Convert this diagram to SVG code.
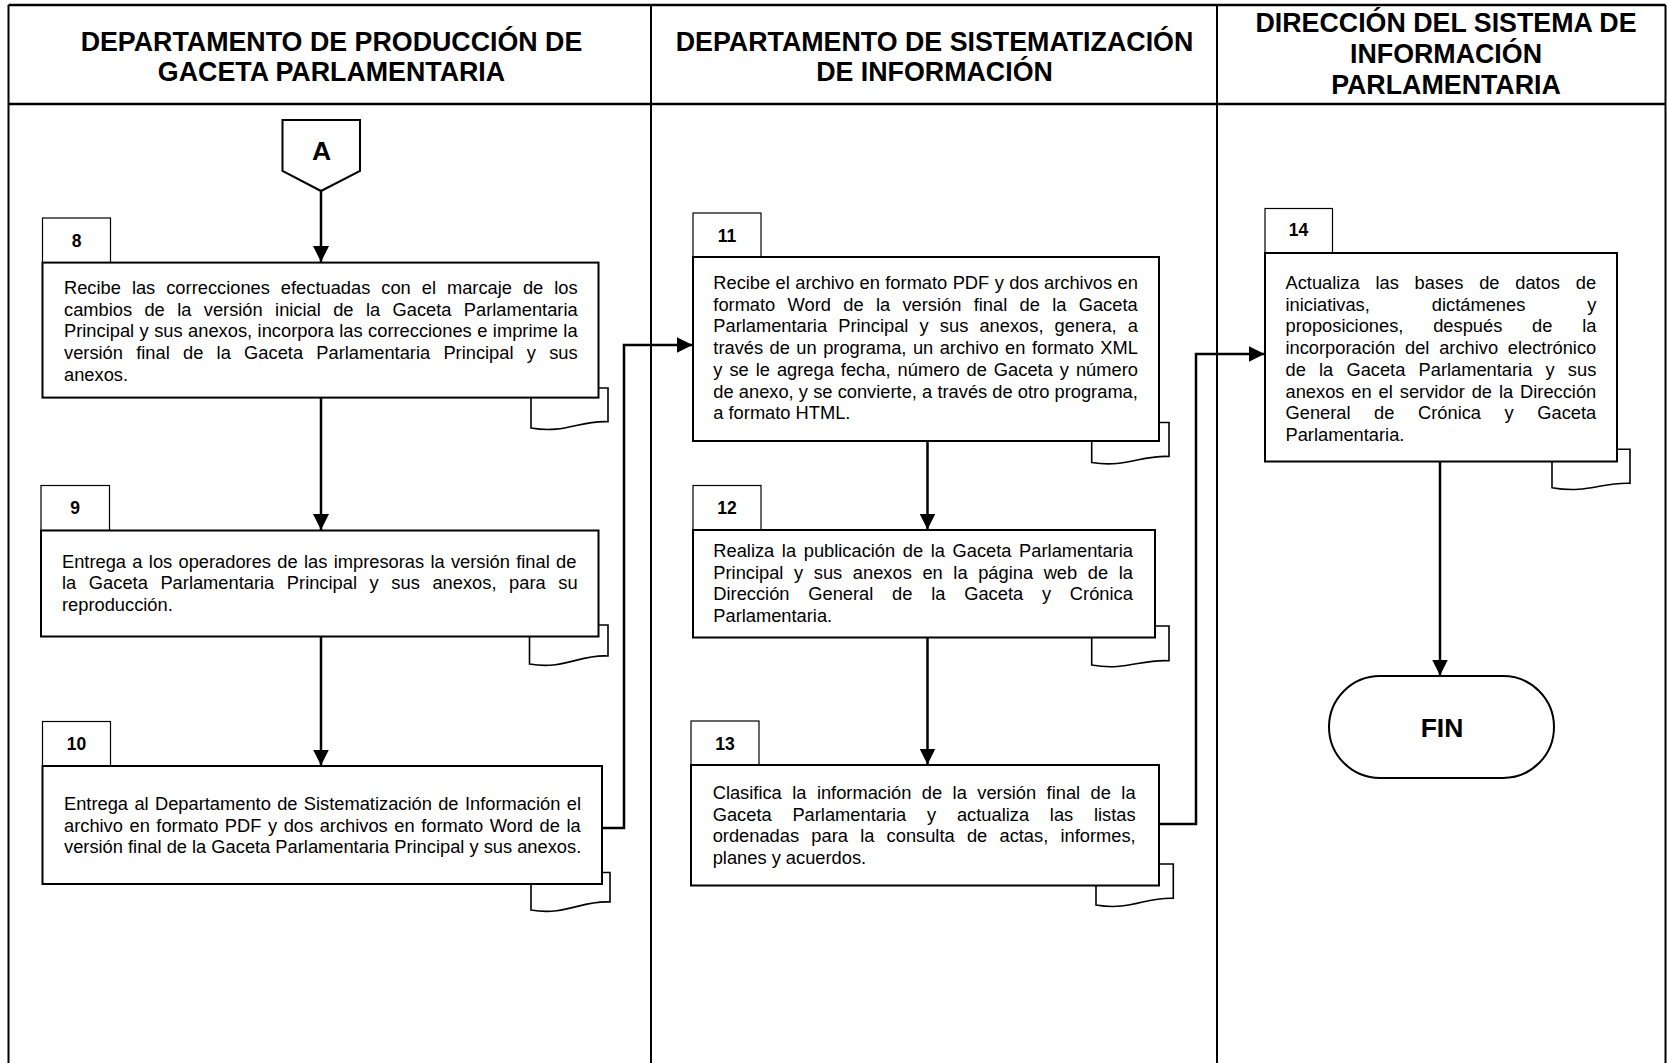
<svg xmlns="http://www.w3.org/2000/svg" width="1667" height="1063" viewBox="0 0 1667 1063">
<defs>
<style>
.frame{fill:none;stroke:#000;stroke-width:2.5}
.lane{fill:none;stroke:#000;stroke-width:2}
.box{fill:#fff;stroke:#000;stroke-width:2}
.tab{fill:#fff;stroke:#000;stroke-width:1.2}
.curl{fill:#fff;stroke:#000;stroke-width:1.6}
.conn{fill:none;stroke:#000;stroke-width:2.5}
.hdr{font-family:"Liberation Sans",Arial,sans-serif;font-weight:bold;font-size:26.8px;text-anchor:middle}
.num{font-family:"Liberation Sans",Arial,sans-serif;font-weight:bold;font-size:17.5px;text-anchor:middle}
.big{font-family:"Liberation Sans",Arial,sans-serif;font-weight:bold;font-size:26.5px;text-anchor:middle}
.t{font-family:"Liberation Sans",Arial,sans-serif;font-size:18.3px}
</style>
<marker id="ah" markerUnits="userSpaceOnUse" markerWidth="16" markerHeight="16" refX="16" refY="8" orient="auto">
<path d="M0,0 L16,8 L0,16 Z" fill="#000"/>
</marker>
</defs>
<rect width="1667" height="1063" fill="#fff"/>

<g id="lanes">
<line class="frame" x1="8.5" y1="5" x2="1665.5" y2="5"/>
<line class="frame" x1="8.5" y1="104" x2="1665.5" y2="104"/>
<line class="lane" x1="8.5" y1="5" x2="8.5" y2="1063"/>
<line class="lane" x1="1665.5" y1="5" x2="1665.5" y2="1063"/>
<line class="lane" x1="651" y1="5" x2="651" y2="1063"/>
<line class="lane" x1="1217" y1="5" x2="1217" y2="1063"/>
<text class="hdr" x="331.5" y="51">DEPARTAMENTO DE PRODUCCIÓN DE</text>
<text class="hdr" x="331.5" y="81">GACETA PARLAMENTARIA</text>
<text class="hdr" x="934.5" y="51">DEPARTAMENTO DE SISTEMATIZACIÓN</text>
<text class="hdr" x="934.5" y="81">DE INFORMACIÓN</text>
<text class="hdr" x="1446" y="32">DIRECCIÓN DEL SISTEMA DE</text>
<text class="hdr" x="1446" y="63">INFORMACIÓN</text>
<text class="hdr" x="1446" y="94">PARLAMENTARIA</text>
</g>

<g id="connectors">
<line class="conn" x1="321" y1="190" x2="321" y2="262" marker-end="url(#ah)"/>
<line class="conn" x1="321" y1="397.6" x2="321" y2="530" marker-end="url(#ah)"/>
<line class="conn" x1="321" y1="636.5" x2="321" y2="765.5" marker-end="url(#ah)"/>
<polyline class="conn" points="602,828 624,828 624,345 692.5,345" marker-end="url(#ah)"/>
<line class="conn" x1="927.5" y1="441" x2="927.5" y2="529.5" marker-end="url(#ah)"/>
<line class="conn" x1="927.5" y1="637.5" x2="927.5" y2="764.5" marker-end="url(#ah)"/>
<polyline class="conn" points="1159,824 1196,824 1196,354 1264.5,354" marker-end="url(#ah)"/>
<line class="conn" x1="1440" y1="461.5" x2="1440" y2="675.5" marker-end="url(#ah)"/>
</g>

<g id="nodeA">
<path class="box" d="M282.5,120 H360 V171 L321,191 L282.5,171 Z"/>
<text class="big" x="321.5" y="160">A</text>
</g>

<g id="node8">
<path class="curl" d="M531,388 H608 V421.7 C580,420 565,434 531,428 Z"/>
<rect class="tab" x="42.5" y="218" width="68" height="44.6"/>
<rect class="box" x="42.5" y="262.6" width="556" height="135"/>
<text class="num" x="76.5" y="246.5">8</text>
<text class="t" x="64" y="294" word-spacing="5.9">Recibe las correcciones efectuadas con el marcaje de los</text>
<text class="t" x="64" y="315.7" word-spacing="7.3">cambios de la versión inicial de la Gaceta Parlamentaria</text>
<text class="t" x="64" y="337.4" word-spacing="0.39">Principal y sus anexos, incorpora las correcciones e imprime la</text>
<text class="t" x="64" y="359.1" word-spacing="8.19">versión final de la Gaceta Parlamentaria Principal y sus</text>
<text class="t" x="64" y="380.8">anexos.</text>
</g>

<g id="node9">
<path class="curl" d="M529.5,625 H608 V656 C580,654 565,670 529.5,664 Z"/>
<rect class="tab" x="41" y="485.5" width="68.5" height="45"/>
<rect class="box" x="41" y="530.5" width="557.5" height="106"/>
<text class="num" x="75" y="513.5">9</text>
<text class="t" x="62" y="567.5" word-spacing="1.24">Entrega a los operadores de las impresoras la versión final de</text>
<text class="t" x="62" y="589.2" word-spacing="7.55">la Gaceta Parlamentaria Principal y sus anexos, para su</text>
<text class="t" x="62" y="610.9">reproducción.</text>
</g>

<g id="node10">
<path class="curl" d="M531,872.5 H610 V902 C582,900 566,916 531,910 Z"/>
<rect class="tab" x="42.5" y="721.5" width="68" height="44.5"/>
<rect class="box" x="42.5" y="766" width="559.5" height="118"/>
<text class="num" x="76.5" y="749.5">10</text>
<text class="t" x="64" y="810" word-spacing="1.27">Entrega al Departamento de Sistematización de Información el</text>
<text class="t" x="64" y="831.7" word-spacing="1.46">archivo en formato PDF y dos archivos en formato Word de la</text>
<text class="t" x="64" y="853.4">versión final de la Gaceta Parlamentaria Principal y sus anexos.</text>
</g>

<g id="node11">
<path class="curl" d="M1091.7,422.5 H1169 V456.5 C1141,455 1126,468 1091.7,462.5 Z"/>
<rect class="tab" x="693" y="213" width="68" height="44"/>
<rect class="box" x="693" y="257" width="466" height="184"/>
<text class="num" x="727" y="241.5">11</text>
<text class="t" x="713.3" y="289" word-spacing="0.32">Recibe el archivo en formato PDF y dos archivos en</text>
<text class="t" x="713.3" y="310.7" word-spacing="7.23">formato Word de la versión final de la Gaceta</text>
<text class="t" x="713.3" y="332.4" word-spacing="6.08">Parlamentaria Principal y sus anexos, genera, a</text>
<text class="t" x="713.3" y="354.1" word-spacing="1.38">través de un programa, un archivo en formato XML</text>
<text class="t" x="713.3" y="375.8" word-spacing="1.9">y se le agrega fecha, número de Gaceta y número</text>
<text class="t" x="713.3" y="397.5" word-spacing="0.09">de anexo, y se convierte, a través de otro programa,</text>
<text class="t" x="713.3" y="419.2">a formato HTML.</text>
</g>

<g id="node12">
<path class="curl" d="M1091.7,626 H1169 V660.7 C1141,659 1126,671 1091.7,665 Z"/>
<rect class="tab" x="693" y="485.5" width="68" height="44.5"/>
<rect class="box" x="693" y="530" width="462" height="107.5"/>
<text class="num" x="727" y="513.5">12</text>
<text class="t" x="713.3" y="557" word-spacing="2.53">Realiza la publicación de la Gaceta Parlamentaria</text>
<text class="t" x="713.3" y="578.7" word-spacing="5.53">Principal y sus anexos en la página web de la</text>
<text class="t" x="713.3" y="600.4" word-spacing="13.7">Dirección General de la Gaceta y Crónica</text>
<text class="t" x="713.3" y="622.1">Parlamentaria.</text>
</g>

<g id="node13">
<path class="curl" d="M1096,864 H1173.3 V898.3 C1145,897 1130,911 1096,905 Z"/>
<rect class="tab" x="691" y="721" width="68" height="44"/>
<rect class="box" x="691" y="765" width="468" height="120.5"/>
<text class="num" x="725" y="749.5">13</text>
<text class="t" x="712.7" y="799" word-spacing="5.36">Clasifica la información de la versión final de la</text>
<text class="t" x="712.7" y="820.7" word-spacing="15.7">Gaceta Parlamentaria y actualiza las listas</text>
<text class="t" x="712.7" y="842.4" word-spacing="7.15">ordenadas para la consulta de actas, informes,</text>
<text class="t" x="712.7" y="864.1">planes y acuerdos.</text>
</g>

<g id="node14">
<path class="curl" d="M1552,449.3 H1630 V483.3 C1602,482 1587,494 1552,487.7 Z"/>
<rect class="tab" x="1265" y="208.5" width="67.5" height="44.5"/>
<rect class="box" x="1265" y="253" width="352" height="208.5"/>
<text class="num" x="1298.5" y="236">14</text>
<text class="t" x="1285.5" y="289" word-spacing="10.7">Actualiza las bases de datos de</text>
<text class="t" x="1285.5" y="310.7" word-spacing="56.9">iniciativas, dictámenes y</text>
<text class="t" x="1285.5" y="332.4" word-spacing="24.7">proposiciones, después de la</text>
<text class="t" x="1285.5" y="354.1" word-spacing="4.67">incorporación del archivo electrónico</text>
<text class="t" x="1285.5" y="375.8" word-spacing="8.1">de la Gaceta Parlamentaria y sus</text>
<text class="t" x="1285.5" y="397.5" word-spacing="1.83">anexos en el servidor de la Dirección</text>
<text class="t" x="1285.5" y="419.2" word-spacing="18.5">General de Crónica y Gaceta</text>
<text class="t" x="1285.5" y="440.9">Parlamentaria.</text>
</g>

<g id="nodeFIN">
<rect class="box" x="1329" y="676" width="225" height="102" rx="51" ry="51"/>
<text class="big" x="1442" y="737">FIN</text>
</g>
</svg>
